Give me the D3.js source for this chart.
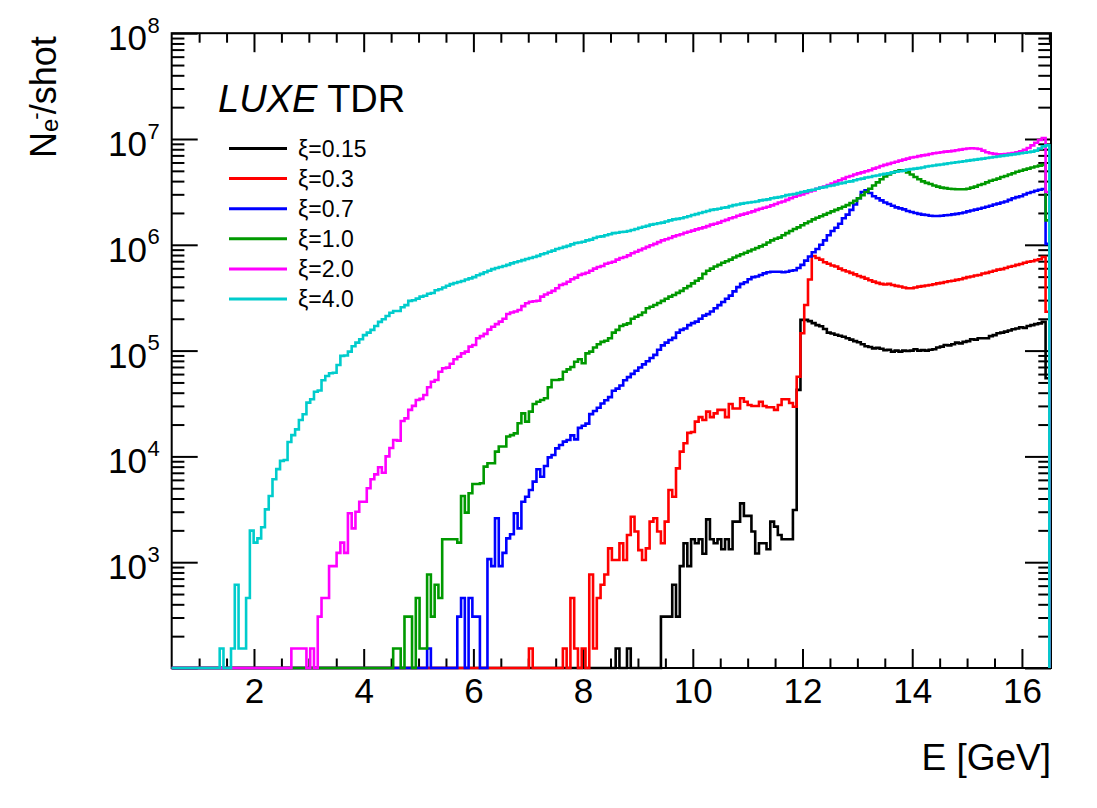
<!DOCTYPE html>
<html>
<head>
<meta charset="utf-8">
<script src="https://cdn.jsdelivr.net/npm/d3@7"></script>
<style>
body { margin: 0; background: #fff; }
text { font-family: "Liberation Sans", Arial, Helvetica, sans-serif; }
</style>
</head>
<body>
<svg id="chart" width="1097" height="808"></svg>
<script>
// histogram binning: 240 bins over 0 - 16.5 GeV
var nBins = 240, eMax = 16.5;
var binWidth = eMax / nBins;

// electrons per shot per bin, each list starts at bin index *First
var xi015First = 125;
var xi015 = [
  153, 0, 0, 153, 0, 0, 0, 0, 0, 0,
  0, 0, 306, 306, 306, 612, 306, 918, 1510, 918,
  1650, 1510, 1650, 1200, 2540, 1650, 1510, 1650, 1325, 1650,
  1325, 2420, 2420, 3600, 2740, 2740, 1950, 1210, 1510, 1510,
  1325, 2420, 2170, 1810, 1650, 1650, 1650, 3110, 4.25e4, 1.95e5,
  1.95e5, 1.90e5, 1.82e5, 1.74e5, 1.70e5, 1.60e5, 1.48e5, 1.45e5, 1.41e5, 1.38e5,
  1.35e5, 1.31e5, 1.27e5, 1.23e5, 1.20e5, 1.15e5, 1.10e5, 1.08e5, 1.05e5, 1.06e5,
  1.04e5, 1.01e5, 1.02e5, 9.77e4, 1.00e5, 9.77e4, 1.00e5, 9.90e4, 1.00e5, 1.03e5,
  1.00e5, 1.01e5, 1.00e5, 1.02e5, 1.03e5, 1.07e5, 1.09e5, 1.13e5, 1.12e5, 1.15e5,
  1.19e5, 1.17e5, 1.21e5, 1.23e5, 1.28e5, 1.27e5, 1.31e5, 1.31e5, 1.31e5, 1.37e5,
  1.40e5, 1.46e5, 1.48e5, 1.51e5, 1.55e5, 1.59e5, 1.62e5, 1.66e5, 1.64e5, 1.71e5,
  1.74e5, 1.78e5, 1.81e5, 1.87e5, 5.47e4
];

var xi03First = 102;
var xi03 = [
  153, 0, 0, 0, 0, 0, 0, 0, 0, 153,
  0, 459, 153, 0, 153, 0, 765, 153, 459, 612,
  765, 1350, 1050, 1050, 1510, 1050, 1810, 2690, 1950, 1300,
  1050, 1350, 2420, 2600, 1950, 1510, 2420, 4810, 4160, 7710,
  11100, 13300, 16700, 17000, 21300, 23500, 22100, 26500, 23500, 25500,
  27500, 27500, 23500, 31300, 28400, 28400, 35400, 32900, 30600, 29900,
  29900, 32900, 29900, 29100, 29100, 27500, 30600, 34700, 34700, 32000,
  29500, 56600, 1.46e5, 2.70e5, 4.70e5, 7.83e5, 7.50e5, 7.24e5, 6.84e5, 6.61e5,
  6.38e5, 6.24e5, 5.96e5, 5.75e5, 5.60e5, 5.43e5, 5.25e5, 5.07e5, 4.95e5, 4.79e5,
  4.62e5, 4.49e5, 4.37e5, 4.27e5, 4.22e5, 4.27e5, 4.17e5, 4.09e5, 4.03e5, 3.95e5,
  3.89e5, 3.89e5, 3.95e5, 4.02e5, 4.07e5, 4.12e5, 4.17e5, 4.24e5, 4.32e5, 4.37e5,
  4.45e5, 4.52e5, 4.57e5, 4.66e5, 4.73e5, 4.84e5, 4.95e5, 5.01e5, 5.13e5, 5.19e5,
  5.35e5, 5.43e5, 5.57e5, 5.69e5, 5.82e5, 5.89e5, 6.03e5, 6.21e5, 6.31e5, 6.46e5,
  6.58e5, 6.76e5, 6.92e5, 7.00e5, 7.16e5, 7.29e5, 7.67e5, 2.33e5
];

var xi07First = 75;
var xi07 = [
  153, 0, 0, 0, 0, 0, 0, 0, 306, 459,
  0, 459, 306, 306, 0, 0, 1070, 918, 2600, 918,
  1224, 1680, 1836, 2900, 2090, 3730, 4160, 4810, 5770, 7550,
  6430, 8110, 9800, 10300, 11900, 12800, 13800, 14300, 15800, 14500,
  18600, 19500, 20400, 25100, 26900, 28800, 31600, 33900, 36300, 41700,
  43700, 46800, 52500, 56200, 60300, 64600, 69200, 74100, 79400, 85100,
  91200, 1.02e5, 1.12e5, 1.19e5, 1.26e5, 1.32e5, 1.48e5, 1.57e5, 1.62e5, 1.74e5,
  1.82e5, 1.88e5, 2.00e5, 2.14e5, 2.21e5, 2.34e5, 2.51e5, 2.69e5, 2.88e5, 3.09e5,
  3.31e5, 3.63e5, 3.98e5, 4.27e5, 4.42e5, 4.73e5, 4.95e5, 5.01e5, 5.19e5, 5.37e5,
  5.50e5, 5.56e5, 5.56e5, 5.56e5, 5.50e5, 5.56e5, 5.69e5, 5.75e5, 6.03e5, 6.46e5,
  7.08e5, 7.76e5, 8.51e5, 9.12e5, 1.00e6, 1.10e6, 1.23e6, 1.35e6, 1.45e6, 1.58e6,
  1.78e6, 1.93e6, 2.14e6, 2.40e6, 2.75e6, 3.16e6, 3.27e6, 3.09e6, 2.88e6, 2.75e6,
  2.63e6, 2.51e6, 2.43e6, 2.34e6, 2.26e6, 2.21e6, 2.16e6, 2.09e6, 2.04e6, 2.00e6,
  1.96e6, 1.93e6, 1.91e6, 1.88e6, 1.87e6, 1.87e6, 1.88e6, 1.90e6, 1.91e6, 1.94e6,
  1.96e6, 1.99e6, 2.02e6, 2.07e6, 2.11e6, 2.15e6, 2.19e6, 2.24e6, 2.29e6, 2.34e6,
  2.40e6, 2.45e6, 2.51e6, 2.57e6, 2.66e6, 2.75e6, 2.82e6, 2.88e6, 2.99e6, 3.09e6,
  3.16e6, 3.24e6, 3.31e6, 3.37e6, 1.02e6
];

var xi10First = 66;
var xi10 = [
  153, 153, 0, 306, 306, 0, 459, 153, 153, 765,
  306, 612, 459, 1650, 1650, 1650, 1650, 1530, 4230, 2940,
  4480, 5480, 5480, 5570, 8000, 8610, 8610, 11100, 12400, 12400,
  15400, 15900, 16500, 20600, 25500, 21300, 26500, 31300, 32900, 34100,
  35400, 45000, 52700, 52700, 53500, 63100, 66500, 70000, 78500, 82800,
  75900, 94200, 97700, 1.07e5, 1.15e5, 1.21e5, 1.24e5, 1.31e5, 1.48e5, 1.57e5,
  1.71e5, 1.76e5, 1.81e5, 2.00e5, 2.09e5, 2.17e5, 2.29e5, 2.51e5, 2.60e5, 2.70e5,
  2.82e5, 2.95e5, 3.09e5, 3.24e5, 3.35e5, 3.51e5, 3.67e5, 3.88e5, 4.07e5, 4.32e5,
  4.57e5, 4.82e5, 5.31e5, 5.69e5, 5.96e5, 6.24e5, 6.46e5, 6.76e5, 7.00e5, 7.24e5,
  7.59e5, 7.85e5, 8.13e5, 8.41e5, 8.71e5, 9.02e5, 9.33e5, 9.66e5, 1.00e6, 1.05e6,
  1.10e6, 1.14e6, 1.17e6, 1.23e6, 1.29e6, 1.35e6, 1.41e6, 1.46e6, 1.53e6, 1.60e6,
  1.66e6, 1.74e6, 1.80e6, 1.86e6, 1.93e6, 2.00e6, 2.07e6, 2.14e6, 2.21e6, 2.29e6,
  2.37e6, 2.48e6, 2.60e6, 2.75e6, 2.95e6, 3.16e6, 3.39e6, 3.63e6, 3.89e6, 4.17e6,
  4.42e6, 4.62e6, 4.79e6, 4.95e6, 5.07e6, 5.01e6, 4.84e6, 4.62e6, 4.37e6, 4.17e6,
  3.98e6, 3.85e6, 3.76e6, 3.63e6, 3.55e6, 3.47e6, 3.43e6, 3.39e6, 3.37e6, 3.35e6,
  3.35e6, 3.35e6, 3.39e6, 3.47e6, 3.55e6, 3.67e6, 3.76e6, 3.89e6, 4.03e6, 4.12e6,
  4.22e6, 4.37e6, 4.47e6, 4.62e6, 4.74e6, 4.90e6, 5.01e6, 5.13e6, 5.25e6, 5.37e6,
  5.50e6, 5.60e6, 5.69e6, 1.70e6
];

var xi20First = 39;
var xi20 = [
  153, 153, 153, 153, 0, 153, 0, 306, 459, 459,
  918, 918, 1224, 1530, 1224, 2900, 2090, 3000, 3730, 3730,
  5000, 6080, 6760, 7890, 7010, 10000, 12000, 14300, 14100, 21600,
  22900, 27500, 30000, 34100, 35000, 38000, 45000, 50800, 52700, 63100,
  68000, 69000, 75000, 82800, 87500, 94200, 97700, 1.09e5, 1.13e5, 1.31e5,
  1.37e5, 1.44e5, 1.58e5, 1.68e5, 1.78e5, 1.88e5, 2.00e5, 2.22e5, 2.29e5, 2.34e5,
  2.42e5, 2.63e5, 2.80e5, 2.90e5, 2.93e5, 2.96e5, 3.24e5, 3.39e5, 3.52e5, 3.67e5,
  3.88e5, 4.17e5, 4.27e5, 4.48e5, 4.73e5, 4.90e5, 5.19e5, 5.31e5, 5.45e5, 5.69e5,
  5.96e5, 6.17e5, 6.31e5, 6.61e5, 6.76e5, 6.92e5, 7.24e5, 7.50e5, 7.67e5, 7.94e5,
  8.32e5, 8.61e5, 8.91e5, 9.23e5, 9.55e5, 9.89e5, 1.02e6, 1.06e6, 1.10e6, 1.13e6,
  1.16e6, 1.20e6, 1.23e6, 1.26e6, 1.30e6, 1.33e6, 1.36e6, 1.40e6, 1.43e6, 1.46e6,
  1.50e6, 1.55e6, 1.58e6, 1.62e6, 1.68e6, 1.72e6, 1.78e6, 1.82e6, 1.88e6, 1.93e6,
  1.97e6, 2.02e6, 2.07e6, 2.14e6, 2.19e6, 2.24e6, 2.29e6, 2.36e6, 2.43e6, 2.51e6,
  2.57e6, 2.66e6, 2.75e6, 2.85e6, 2.92e6, 2.99e6, 3.09e6, 3.20e6, 3.27e6, 3.39e6,
  3.47e6, 3.55e6, 3.67e6, 3.80e6, 3.94e6, 4.07e6, 4.22e6, 4.37e6, 4.47e6, 4.62e6,
  4.73e6, 4.84e6, 4.95e6, 5.07e6, 5.25e6, 5.37e6, 5.56e6, 5.69e6, 5.82e6, 5.96e6,
  6.10e6, 6.24e6, 6.38e6, 6.53e6, 6.68e6, 6.76e6, 6.89e6, 7.00e6, 7.08e6, 7.21e6,
  7.33e6, 7.41e6, 7.50e6, 7.59e6, 7.64e6, 7.73e6, 7.82e6, 7.94e6, 8.04e6, 8.13e6,
  8.17e6, 8.13e6, 8.04e6, 7.76e6, 7.50e6, 7.33e6, 7.24e6, 7.16e6, 7.16e6, 7.21e6,
  7.28e6, 7.35e6, 7.50e6, 7.67e6, 7.91e6, 8.22e6, 8.71e6, 9.23e6, 9.77e6, 1.02e7,
  3.16e6
];

var xi40First = 20;
var xi40 = [
  153, 0, 0, 153, 612, 153, 153, 459, 1990, 1530,
  1680, 2140, 3160, 4230, 6080, 7580, 9080, 9250, 13700, 15900,
  18000, 22100, 25000, 32200, 34700, 40900, 42000, 52500, 57500, 61000,
  61700, 73100, 89100, 90000, 97700, 1.10e5, 1.19e5, 1.28e5, 1.40e5, 1.48e5,
  1.57e5, 1.71e5, 1.87e5, 1.98e5, 2.12e5, 2.28e5, 2.37e5, 2.37e5, 2.57e5, 2.69e5,
  2.95e5, 2.99e5, 3.10e5, 3.24e5, 3.30e5, 3.45e5, 3.50e5, 3.72e5, 3.80e5, 3.95e5,
  4.10e5, 4.25e5, 4.35e5, 4.45e5, 4.55e5, 4.70e5, 4.82e5, 4.95e5, 5.15e5, 5.31e5,
  5.50e5, 5.69e5, 5.89e5, 6.03e5, 6.17e5, 6.31e5, 6.46e5, 6.68e5, 6.84e5, 7.00e5,
  7.16e5, 7.33e5, 7.50e5, 7.67e5, 7.85e5, 8.13e5, 8.32e5, 8.61e5, 8.81e5, 9.12e5,
  9.33e5, 9.55e5, 9.77e5, 1.01e6, 1.04e6, 1.05e6, 1.07e6, 1.10e6, 1.12e6, 1.16e6,
  1.19e6, 1.20e6, 1.23e6, 1.26e6, 1.29e6, 1.30e6, 1.32e6, 1.33e6, 1.35e6, 1.38e6,
  1.41e6, 1.45e6, 1.48e6, 1.51e6, 1.55e6, 1.57e6, 1.60e6, 1.62e6, 1.66e6, 1.70e6,
  1.74e6, 1.76e6, 1.78e6, 1.82e6, 1.86e6, 1.91e6, 1.95e6, 2.00e6, 2.04e6, 2.09e6,
  2.14e6, 2.16e6, 2.19e6, 2.24e6, 2.26e6, 2.32e6, 2.37e6, 2.40e6, 2.45e6, 2.48e6,
  2.51e6, 2.54e6, 2.57e6, 2.63e6, 2.66e6, 2.69e6, 2.75e6, 2.79e6, 2.82e6, 2.88e6,
  2.95e6, 2.99e6, 3.02e6, 3.09e6, 3.16e6, 3.20e6, 3.27e6, 3.31e6, 3.39e6, 3.47e6,
  3.51e6, 3.59e6, 3.63e6, 3.72e6, 3.80e6, 3.85e6, 3.94e6, 3.98e6, 4.07e6, 4.17e6,
  4.22e6, 4.32e6, 4.37e6, 4.47e6, 4.52e6, 4.62e6, 4.68e6, 4.73e6, 4.84e6, 4.90e6,
  4.95e6, 5.01e6, 5.13e6, 5.19e6, 5.25e6, 5.31e6, 5.37e6, 5.50e6, 5.56e6, 5.62e6,
  5.69e6, 5.75e6, 5.82e6, 5.89e6, 5.96e6, 6.03e6, 6.10e6, 6.17e6, 6.24e6, 6.31e6,
  6.38e6, 6.46e6, 6.53e6, 6.61e6, 6.68e6, 6.76e6, 6.84e6, 6.92e6, 7.00e6, 7.08e6,
  7.16e6, 7.24e6, 7.33e6, 7.41e6, 7.50e6, 7.59e6, 7.76e6, 8.13e6, 8.51e6, 8.71e6
];

var seriesLabels = ['ξ=0.15', 'ξ=0.3', 'ξ=0.7', 'ξ=1.0', 'ξ=2.0', 'ξ=4.0'];
var seriesColors = ['#000000', '#ff0000', '#0000ff', '#009900', '#ff00ff', '#00cccc'];
var seriesCounts = [xi015, xi03, xi07, xi10, xi20, xi40];
var seriesFirst = [xi015First, xi03First, xi07First, xi10First, xi20First, xi40First];

var xMajorTicks = [2, 4, 6, 8, 10, 12, 14, 16];
var yDecades = [1e2, 1e3, 1e4, 1e5, 1e6, 1e7, 1e8];
var yLabelExp = [3, 4, 5, 6, 7, 8];

var plotLeft = 171.7, plotRight = 1051, plotTop = 33.2, plotBottom = 668;
var yMin = 1e2;

var svg = d3.select('#chart');
svg.append('rect').attr('width', 1097).attr('height', 808).attr('fill', '#fff');

var x = d3.scaleLinear().domain([0.5, 16.53]).range([plotLeft, plotRight]);
var y = d3.scaleLog().domain([yMin, 1e8]).range([plotBottom, plotTop]);

var xMinorTicks = d3.range(1, 16.51, 0.5).filter(function (d) { return xMajorTicks.indexOf(d) < 0; });
var yMinorTicks = [];
yDecades.slice(0, -1).forEach(function (d) {
    for (var m = 2; m <= 9; m++) yMinorTicks.push(d * m);
});

function styleAxis(g) {
    g.select('.domain').remove();
    g.selectAll('.tick line').attr('stroke', '#000').attr('stroke-width', 2);
    return g;
}

// frame
svg.append('rect')
    .attr('x', plotLeft).attr('y', plotTop)
    .attr('width', plotRight - plotLeft).attr('height', plotBottom - plotTop)
    .attr('fill', 'none').attr('stroke', '#000').attr('stroke-width', 2);

// ticks
var bottomAxis = styleAxis(svg.append('g').attr('transform', 'translate(0,' + plotBottom + ')')
    .call(d3.axisBottom(x).tickValues(xMajorTicks).tickSize(-19).tickPadding(10).tickFormat(d3.format('d'))));
bottomAxis.selectAll('text').attr('font-size', 35).attr('font-family', '"Liberation Sans", Arial, sans-serif').attr('fill', '#000');
styleAxis(svg.append('g').attr('transform', 'translate(0,' + plotBottom + ')')
    .call(d3.axisBottom(x).tickValues(xMinorTicks).tickSize(-9.5).tickFormat('')));
styleAxis(svg.append('g').attr('transform', 'translate(0,' + plotTop + ')')
    .call(d3.axisTop(x).tickValues(xMajorTicks).tickSize(-19).tickFormat('')));
styleAxis(svg.append('g').attr('transform', 'translate(0,' + plotTop + ')')
    .call(d3.axisTop(x).tickValues(xMinorTicks).tickSize(-9.5).tickFormat('')));
styleAxis(svg.append('g').attr('transform', 'translate(' + plotLeft + ',0)')
    .call(d3.axisLeft(y).tickValues(yDecades).tickSize(-26).tickFormat('')));
styleAxis(svg.append('g').attr('transform', 'translate(' + plotLeft + ',0)')
    .call(d3.axisLeft(y).tickValues(yMinorTicks).tickSize(-12.7).tickFormat('')));
styleAxis(svg.append('g').attr('transform', 'translate(' + plotRight + ',0)')
    .call(d3.axisRight(y).tickValues(yDecades).tickSize(-26).tickFormat('')));
styleAxis(svg.append('g').attr('transform', 'translate(' + plotRight + ',0)')
    .call(d3.axisRight(y).tickValues(yMinorTicks).tickSize(-12.7).tickFormat('')));

// y labels 10^n
yLabelExp.forEach(function (n) {
    var ty = y(Math.pow(10, n));
    svg.append('text').attr('x', 147).attr('y', ty + 17)
        .attr('text-anchor', 'end').attr('font-size', 35).text('10');
    svg.append('text').attr('x', 147.5).attr('y', ty - 0.5)
        .attr('font-size', 22).text(n);
});

// histograms
svg.append('clipPath').attr('id', 'plotClip')
    .append('rect').attr('x', plotLeft).attr('y', plotTop - 3)
    .attr('width', plotRight - plotLeft).attr('height', plotBottom - plotTop + 6);

var histLine = d3.line()
    .x(function (p) { return x(p[0]); })
    .y(function (p) { return p[1] > yMin ? y(p[1]) : plotBottom; })
    .curve(d3.curveStepAfter);

var histGroup = svg.append('g').attr('clip-path', 'url(#plotClip)');
seriesCounts.forEach(function (counts, s) {
    var first = seriesFirst[s];
    var pts = [[0, 0]];
    for (var i = 0; i < nBins; i++) {
        var k = i - first;
        pts.push([i * binWidth, (k >= 0 && k < counts.length) ? counts[k] : 0]);
    }
    pts.push([eMax, pts[pts.length - 1][1]]);
    pts.push([eMax, 0]);
    histGroup.append('path')
        .attr('d', histLine(pts))
        .attr('fill', 'none')
        .attr('stroke', seriesColors[s])
        .attr('stroke-width', 2.6)
        .attr('stroke-linejoin', 'miter');
});

// axis titles
svg.append('text').attr('x', 1051).attr('y', 770)
    .attr('text-anchor', 'end').attr('font-size', 37).text('E [GeV]');

var yTitle = svg.append('text').attr('transform', 'translate(56,158) rotate(-90)').attr('font-size', 36);
yTitle.append('tspan').text('N');
yTitle.append('tspan').attr('font-size', 24).attr('dy', 2).text('e');
yTitle.append('tspan').attr('font-size', 22).attr('dy', -15).attr('dx', -1).text('-');
yTitle.append('tspan').attr('font-size', 36).attr('dy', 13).attr('dx', -2).text('/shot');

// legend
var luxe = svg.append('text').attr('x', 218).attr('y', 112).attr('font-size', 38);
luxe.append('tspan').attr('font-style', 'italic').text('LUXE');
luxe.append('tspan').text(' TDR');

seriesLabels.forEach(function (label, s) {
    var ly = 148.5 + s * 30.1;
    svg.append('line')
        .attr('x1', 229).attr('x2', 287).attr('y1', ly).attr('y2', ly)
        .attr('stroke', seriesColors[s]).attr('stroke-width', 3);
    svg.append('text').attr('x', 298).attr('y', ly + 8)
        .attr('font-size', 23).text(label);
});
</script>
</body>
</html>
